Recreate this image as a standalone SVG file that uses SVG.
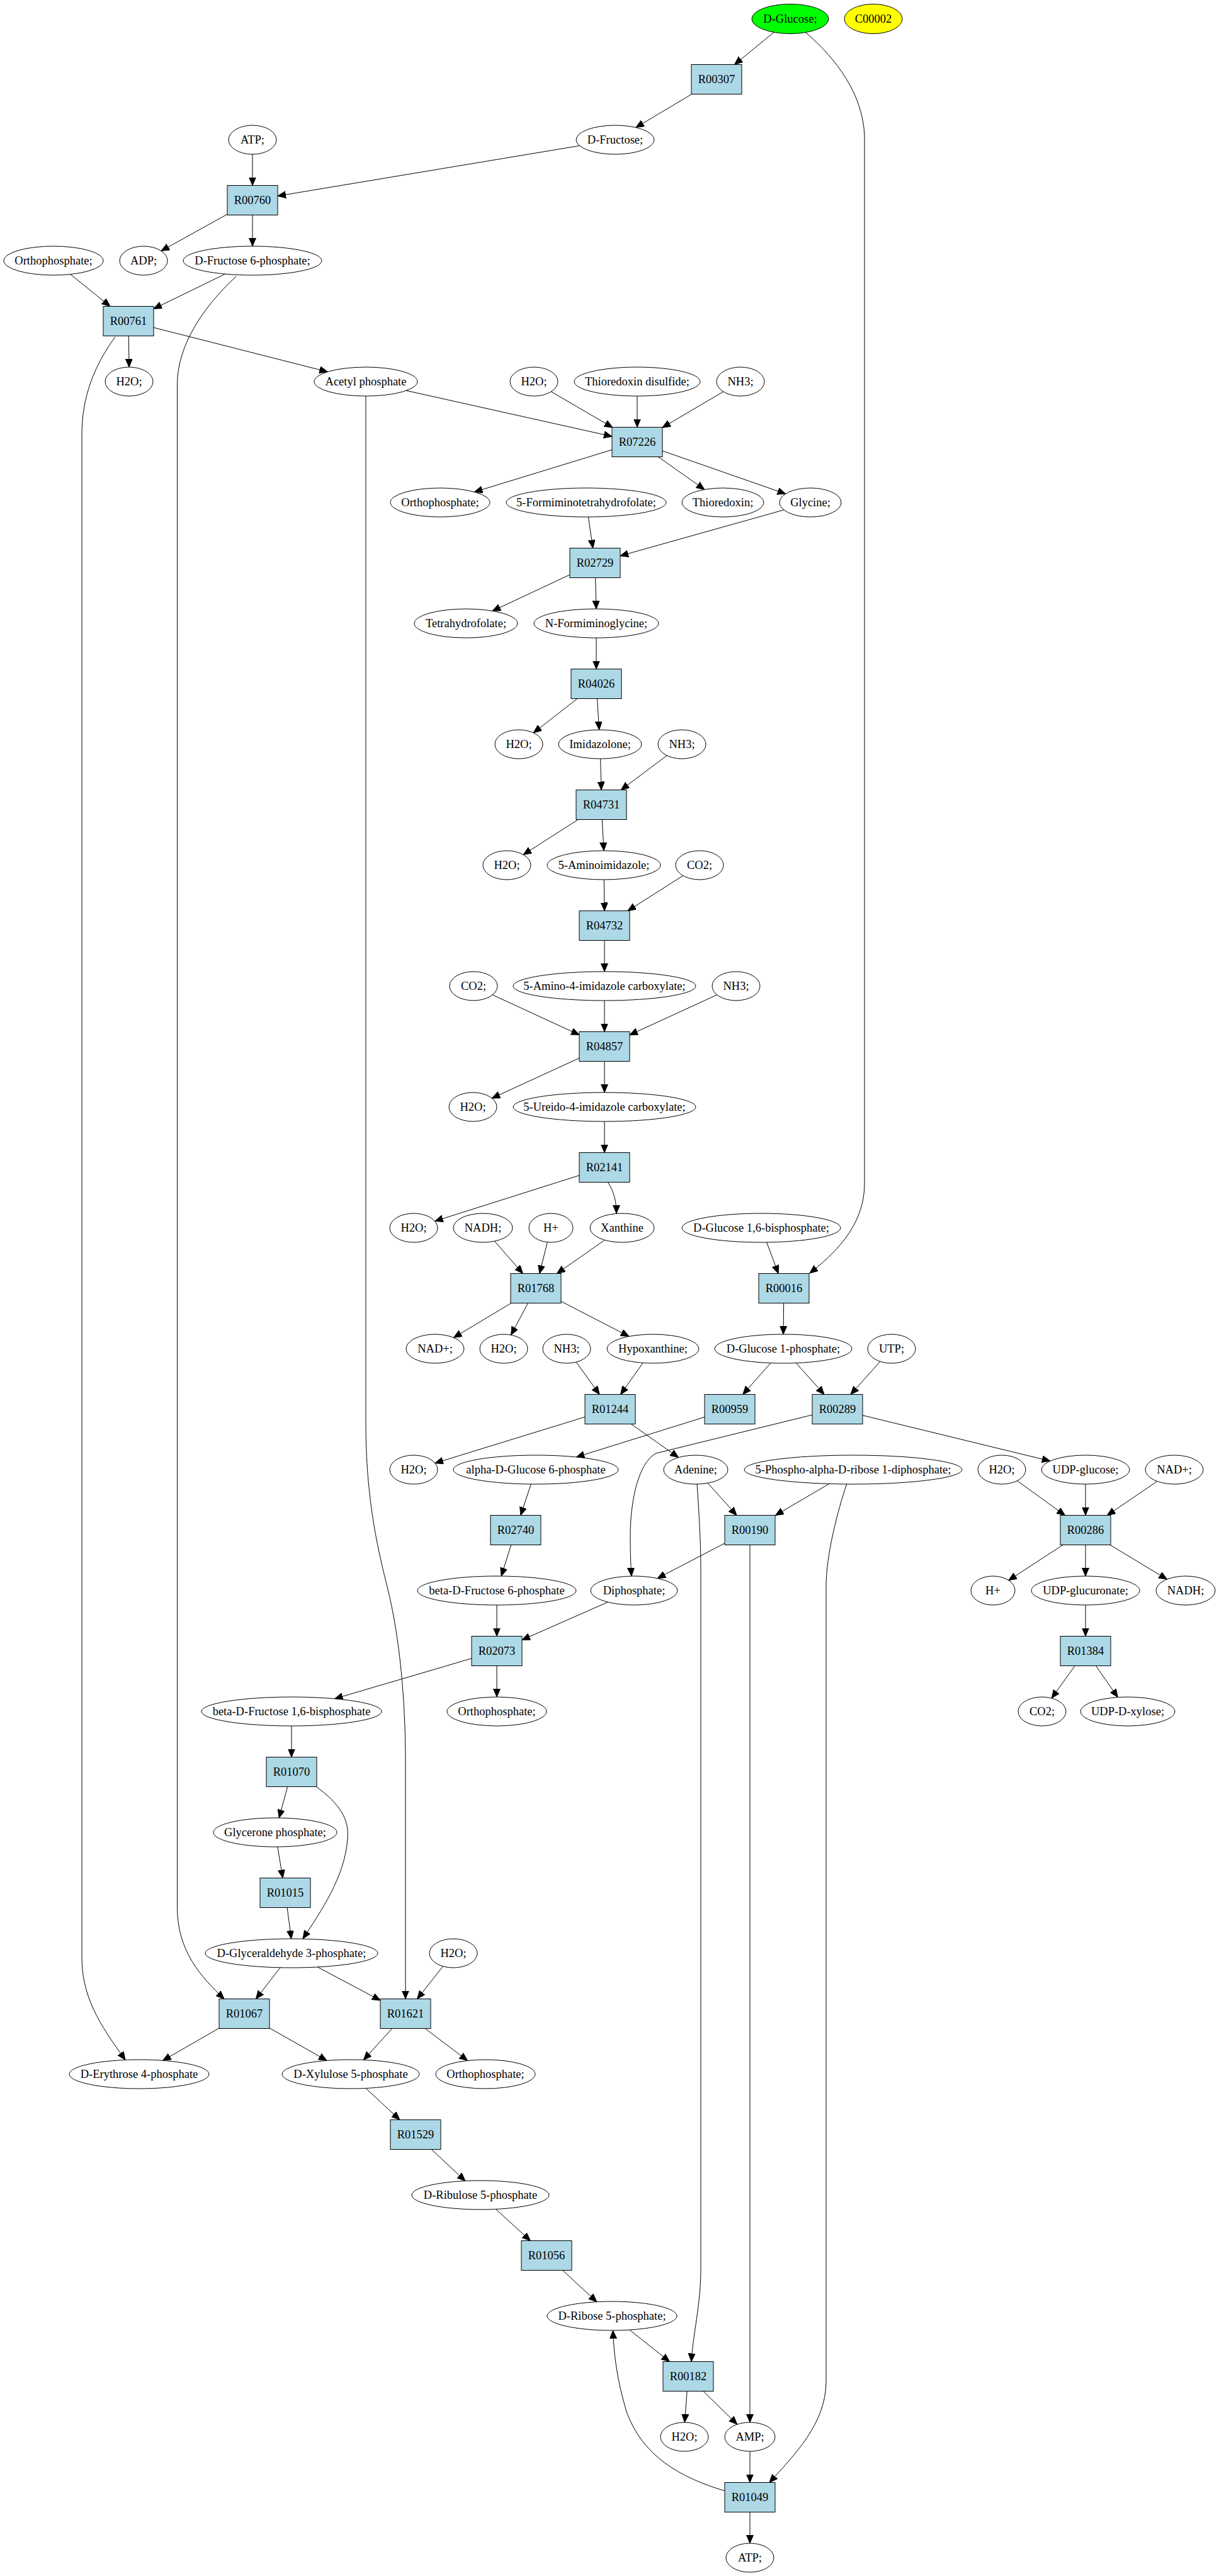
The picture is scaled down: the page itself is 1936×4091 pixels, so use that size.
<svg xmlns="http://www.w3.org/2000/svg" width="1936" height="4091" viewBox="0 0 1936 4091">
<style>
.n ellipse{fill:#fff;stroke:#000;stroke-width:1}
.r rect{fill:#add8e6;stroke:#000;stroke-width:1}
text{font-family:"Liberation Serif","Times New Roman",serif;font-size:18.5px;text-anchor:middle;fill:#000}
#edges path{fill:none;stroke:#000;stroke-width:1;marker-end:url(#arr)}
</style>
<defs>
<marker id="arr" markerWidth="14" markerHeight="12" refX="13" refY="5.5" orient="auto" markerUnits="userSpaceOnUse"><path d="M0,0 L13,5.5 L0,11 z" fill="#000" stroke="#000" stroke-width="1"/></marker>
</defs>
<rect width="1936" height="4091" fill="#fff"/>
<g id="edges">
<path d="M1255,30 L1166.6,102.5"/>
<path d="M1280,52 C1330,95 1370,150 1373,215 L1373,1880 C1373,1950 1320,1995 1286,2022"/>
<path d="M1138,126 L1009.8,202.5"/>
<path d="M977,222 L441,311.3"/>
<path d="M401,222 L401,294.5"/>
<path d="M401,318 L256,398.5"/>
<path d="M401,318 L401,391"/>
<path d="M85,414 L174.9,486.5"/>
<path d="M401,414 L244,490.5"/>
<path d="M375,439 C320,490 282,550 281.5,610 L281.5,3030 C282,3100 320,3140 356,3174.5"/>
<path d="M204,510 L205,583"/>
<path d="M204,510 L520.3,590.5"/>
<path d="M183,535 C150,580 130,630 130,690 L130,3110 C130,3180 170,3230 199,3271.5"/>
<path d="M581,606 L972,693.1"/>
<path d="M581,629 L581,2260 C581,2380 600,2460 615,2520 C635,2600 644,2700 644,2800 L644,3174.5"/>
<path d="M848,606 L973,679"/>
<path d="M1012,606 L1012,678.5"/>
<path d="M1176,606 L1052,679"/>
<path d="M1012,702 L753.4,781.3"/>
<path d="M1012,702 L1118.9,777.4"/>
<path d="M1012,702 L1247.7,784.3"/>
<path d="M931,798 L941.6,870.5"/>
<path d="M1287,798 L985,882.8"/>
<path d="M945,894 L782.1,970.3"/>
<path d="M945,894 L947,967"/>
<path d="M947,990 L947,1062.5"/>
<path d="M947,1086 L847.3,1163.8"/>
<path d="M947,1086 L951.6,1159"/>
<path d="M953,1182 L955,1254.5"/>
<path d="M1083,1182 L986.3,1254.5"/>
<path d="M955,1278 L831.1,1357.3"/>
<path d="M955,1278 L959,1351"/>
<path d="M959,1374 L960,1446.5"/>
<path d="M1111,1374 L997,1446.5"/>
<path d="M960,1470 L960,1543"/>
<path d="M752,1566 L920,1643.5"/>
<path d="M960,1566 L960,1638.5"/>
<path d="M1169,1566 L1000,1643.6"/>
<path d="M960,1662 L781.3,1744.1"/>
<path d="M960,1662 L960,1735"/>
<path d="M960,1758 L960,1830.5"/>
<path d="M960,1854 L690.7,1939.3"/>
<path d="M965,1877 C975,1892 979,1908 979,1927"/>
<path d="M767,1950 L830.4,2022.5"/>
<path d="M875,1950 L856.9,2022.5"/>
<path d="M988,1950 L884.5,2022.5"/>
<path d="M851,2046 L720.5,2124.3"/>
<path d="M851,2046 L811.6,2120.1"/>
<path d="M851,2046 L999,2122.4"/>
<path d="M1209,1950 L1236.2,2022.5"/>
<path d="M1245,2046 L1244,2119"/>
<path d="M900,2142 L952.1,2214.5"/>
<path d="M1037,2142 L985.6,2214.5"/>
<path d="M1244,2142 L1179.8,2214.5"/>
<path d="M1244,2142 L1309,2214.5"/>
<path d="M1416,2142 L1351,2214.5"/>
<path d="M969,2238 L690.9,2323.6"/>
<path d="M969,2238 L1077.5,2314.6"/>
<path d="M1159,2238 L915.3,2314"/>
<path d="M1290,2247 L1042,2308 C1015,2322 1001,2380 1001,2440 C1001,2470 1002,2490 1003,2503"/>
<path d="M1330,2238 L1667.8,2320.3"/>
<path d="M1105,2334 L1170,2406.5"/>
<path d="M1107,2356 C1110,2400 1113,2450 1113,2490 L1113,3606 C1113,3660 1100,3710 1098,3750.5"/>
<path d="M1355,2334 L1231.5,2406.5"/>
<path d="M1345,2356 C1330,2400 1312,2470 1312,2520 L1312,3782 C1312,3850 1260,3900 1222,3942.5"/>
<path d="M851,2334 L826.8,2406.5"/>
<path d="M1191,2430 L1044.1,2506.6"/>
<path d="M1191,2453 L1191,3847"/>
<path d="M1591,2334 L1691.4,2406.5"/>
<path d="M1724,2334 L1724,2406.5"/>
<path d="M1865,2334 L1758.5,2406.5"/>
<path d="M819,2430 L796.2,2503"/>
<path d="M789,2526 L789,2598.5"/>
<path d="M1007,2526 L829,2604.4"/>
<path d="M1724,2430 L1601.8,2509.8"/>
<path d="M1724,2430 L1724,2503"/>
<path d="M1724,2430 L1853.4,2508.1"/>
<path d="M1724,2526 L1724,2598.5"/>
<path d="M789,2622 L531.5,2697.8"/>
<path d="M789,2622 L789,2695"/>
<path d="M1724,2622 L1670.2,2696.9"/>
<path d="M1724,2622 L1775.3,2695.5"/>
<path d="M463,2718 L463,2790.5"/>
<path d="M463,2814 L443.2,2887.1"/>
<path d="M503,2838 C540,2865 555,2890 552,2920 C548,2980 510,3035 481,3079"/>
<path d="M437,2910 L449.1,2982.5"/>
<path d="M453,3006 L462.6,3079"/>
<path d="M463,3102 L406.4,3174.5"/>
<path d="M463,3102 L604,3176.8"/>
<path d="M720,3102 L662.6,3174.5"/>
<path d="M388,3198 L258.6,3272.4"/>
<path d="M388,3198 L519,3272.4"/>
<path d="M644,3198 L577.5,3271.4"/>
<path d="M644,3198 L742.6,3272.5"/>
<path d="M557,3294 L634.8,3366.5"/>
<path d="M660,3390 L738.9,3463.6"/>
<path d="M763,3486 L842.3,3558.5"/>
<path d="M868,3582 L947.8,3655.6"/>
<path d="M972,3678 L1063.4,3750.5"/>
<path d="M1093,3774 L1087.4,3847"/>
<path d="M1093,3774 L1170.8,3850.2"/>
<path d="M1191,3870 L1191,3942.5"/>
<path d="M1191,3966 L1191,4039"/>
<path d="M1152,3956 C1080,3935 1020,3900 995,3830 C980,3780 975,3740 973.5,3701"/>
</g>
<g id="c_D-Glucose" class="n"><ellipse cx="1255" cy="30" rx="61" ry="23.5" style="fill:#00ff00"/><text x="1255" y="36">D-Glucose;</text></g>
<g id="c_C00002" class="n"><ellipse cx="1387" cy="30" rx="46" ry="23.5" style="fill:#ffff00"/><text x="1387" y="36">C00002</text></g>
<g id="R00307" class="r"><rect x="1098" y="102.5" width="80" height="47"/><text x="1138" y="132">R00307</text></g>
<g id="c_ATP_1" class="n"><ellipse cx="401" cy="222" rx="38" ry="23"/><text x="401" y="228">ATP;</text></g>
<g id="c_D-Fructose" class="n"><ellipse cx="977" cy="222" rx="62" ry="23"/><text x="977" y="228">D-Fructose;</text></g>
<g id="R00760" class="r"><rect x="361" y="294.5" width="80" height="47"/><text x="401" y="324">R00760</text></g>
<g id="c_Orthophosphate_1" class="n"><ellipse cx="85" cy="414" rx="79" ry="23"/><text x="85" y="420">Orthophosphate;</text></g>
<g id="c_ADP" class="n"><ellipse cx="228" cy="414" rx="38" ry="23"/><text x="228" y="420">ADP;</text></g>
<g id="c_D-Fructose6P" class="n"><ellipse cx="401" cy="414" rx="110" ry="23"/><text x="401" y="420">D-Fructose 6-phosphate;</text></g>
<g id="R00761" class="r"><rect x="164" y="486.5" width="80" height="47"/><text x="204" y="516">R00761</text></g>
<g id="c_H2O_1" class="n"><ellipse cx="205" cy="606" rx="38" ry="23"/><text x="205" y="612">H2O;</text></g>
<g id="c_Acetylphosphate" class="n"><ellipse cx="581" cy="606" rx="82" ry="23"/><text x="581" y="612">Acetyl phosphate</text></g>
<g id="c_H2O_2" class="n"><ellipse cx="848" cy="606" rx="38" ry="23"/><text x="848" y="612">H2O;</text></g>
<g id="c_Thioredoxindisulfide" class="n"><ellipse cx="1012" cy="606" rx="100" ry="23"/><text x="1012" y="612">Thioredoxin disulfide;</text></g>
<g id="c_NH3_1" class="n"><ellipse cx="1176" cy="606" rx="38" ry="23"/><text x="1176" y="612">NH3;</text></g>
<g id="R07226" class="r"><rect x="972" y="678.5" width="80" height="47"/><text x="1012" y="708">R07226</text></g>
<g id="c_Orthophosphate_2" class="n"><ellipse cx="699" cy="798" rx="79" ry="23"/><text x="699" y="804">Orthophosphate;</text></g>
<g id="c_5-Formiminotetrahydrofolate" class="n"><ellipse cx="931" cy="798" rx="127" ry="23"/><text x="931" y="804">5-Formiminotetrahydrofolate;</text></g>
<g id="c_Thioredoxin" class="n"><ellipse cx="1148" cy="798" rx="65" ry="23"/><text x="1148" y="804">Thioredoxin;</text></g>
<g id="c_Glycine" class="n"><ellipse cx="1287" cy="798" rx="49" ry="23"/><text x="1287" y="804">Glycine;</text></g>
<g id="R02729" class="r"><rect x="905" y="870.5" width="80" height="47"/><text x="945" y="900">R02729</text></g>
<g id="c_Tetrahydrofolate" class="n"><ellipse cx="740" cy="990" rx="82" ry="23"/><text x="740" y="996">Tetrahydrofolate;</text></g>
<g id="c_N-Formiminoglycine" class="n"><ellipse cx="947" cy="990" rx="99" ry="23"/><text x="947" y="996">N-Formiminoglycine;</text></g>
<g id="R04026" class="r"><rect x="907" y="1062.5" width="80" height="47"/><text x="947" y="1092">R04026</text></g>
<g id="c_H2O_3" class="n"><ellipse cx="824" cy="1182" rx="38" ry="23"/><text x="824" y="1188">H2O;</text></g>
<g id="c_Imidazolone" class="n"><ellipse cx="953" cy="1182" rx="66" ry="23"/><text x="953" y="1188">Imidazolone;</text></g>
<g id="c_NH3_2" class="n"><ellipse cx="1083" cy="1182" rx="38" ry="23"/><text x="1083" y="1188">NH3;</text></g>
<g id="R04731" class="r"><rect x="915" y="1254.5" width="80" height="47"/><text x="955" y="1284">R04731</text></g>
<g id="c_H2O_4" class="n"><ellipse cx="805" cy="1374" rx="38" ry="23"/><text x="805" y="1380">H2O;</text></g>
<g id="c_5-Aminoimidazole" class="n"><ellipse cx="959" cy="1374" rx="90" ry="23"/><text x="959" y="1380">5-Aminoimidazole;</text></g>
<g id="c_CO2_1" class="n"><ellipse cx="1111" cy="1374" rx="38" ry="23"/><text x="1111" y="1380">CO2;</text></g>
<g id="R04732" class="r"><rect x="920" y="1446.5" width="80" height="47"/><text x="960" y="1476">R04732</text></g>
<g id="c_CO2_2" class="n"><ellipse cx="752" cy="1566" rx="38" ry="23"/><text x="752" y="1572">CO2;</text></g>
<g id="c_5-Amino-4-imidazolecarboxylate" class="n"><ellipse cx="960" cy="1566" rx="145" ry="23"/><text x="960" y="1572">5-Amino-4-imidazole carboxylate;</text></g>
<g id="c_NH3_3" class="n"><ellipse cx="1169" cy="1566" rx="38" ry="23"/><text x="1169" y="1572">NH3;</text></g>
<g id="R04857" class="r"><rect x="920" y="1638.5" width="80" height="47"/><text x="960" y="1668">R04857</text></g>
<g id="c_H2O_5" class="n"><ellipse cx="751" cy="1758" rx="38" ry="23"/><text x="751" y="1764">H2O;</text></g>
<g id="c_5-Ureido-4-imidazolecarboxylate" class="n"><ellipse cx="960" cy="1758" rx="145" ry="23"/><text x="960" y="1764">5-Ureido-4-imidazole carboxylate;</text></g>
<g id="R02141" class="r"><rect x="920" y="1830.5" width="80" height="47"/><text x="960" y="1860">R02141</text></g>
<g id="c_H2O_6" class="n"><ellipse cx="657" cy="1950" rx="38" ry="23"/><text x="657" y="1956">H2O;</text></g>
<g id="c_NADH_1" class="n"><ellipse cx="767" cy="1950" rx="47" ry="23"/><text x="767" y="1956">NADH;</text></g>
<g id="c_Hplus_1" class="n"><ellipse cx="875" cy="1950" rx="35" ry="23"/><text x="875" y="1956">H+</text></g>
<g id="c_Xanthine" class="n"><ellipse cx="988" cy="1950" rx="51" ry="23"/><text x="988" y="1956">Xanthine</text></g>
<g id="c_D-Glucose16bisphosphate" class="n"><ellipse cx="1209" cy="1950" rx="126" ry="23"/><text x="1209" y="1956">D-Glucose 1,6-bisphosphate;</text></g>
<g id="R01768" class="r"><rect x="811" y="2022.5" width="80" height="47"/><text x="851" y="2052">R01768</text></g>
<g id="R00016" class="r"><rect x="1205" y="2022.5" width="80" height="47"/><text x="1245" y="2052">R00016</text></g>
<g id="c_NADplus_1" class="n"><ellipse cx="691" cy="2142" rx="46" ry="23"/><text x="691" y="2148">NAD+;</text></g>
<g id="c_H2O_7" class="n"><ellipse cx="800" cy="2142" rx="38" ry="23"/><text x="800" y="2148">H2O;</text></g>
<g id="c_NH3_4" class="n"><ellipse cx="900" cy="2142" rx="38" ry="23"/><text x="900" y="2148">NH3;</text></g>
<g id="c_Hypoxanthine" class="n"><ellipse cx="1037" cy="2142" rx="73" ry="23"/><text x="1037" y="2148">Hypoxanthine;</text></g>
<g id="c_D-Glucose1phosphate" class="n"><ellipse cx="1244" cy="2142" rx="109" ry="23"/><text x="1244" y="2148">D-Glucose 1-phosphate;</text></g>
<g id="c_UTP" class="n"><ellipse cx="1416" cy="2142" rx="38" ry="23"/><text x="1416" y="2148">UTP;</text></g>
<g id="R01244" class="r"><rect x="929" y="2214.5" width="80" height="47"/><text x="969" y="2244">R01244</text></g>
<g id="R00959" class="r"><rect x="1119" y="2214.5" width="80" height="47"/><text x="1159" y="2244">R00959</text></g>
<g id="R00289" class="r"><rect x="1290" y="2214.5" width="80" height="47"/><text x="1330" y="2244">R00289</text></g>
<g id="c_H2O_8" class="n"><ellipse cx="657" cy="2334" rx="38" ry="23"/><text x="657" y="2340">H2O;</text></g>
<g id="c_alpha-D-Glucose6phosphate" class="n"><ellipse cx="851" cy="2334" rx="131" ry="23"/><text x="851" y="2340">alpha-D-Glucose 6-phosphate</text></g>
<g id="c_Adenine" class="n"><ellipse cx="1105" cy="2334" rx="51" ry="23"/><text x="1105" y="2340">Adenine;</text></g>
<g id="c_PRPP" class="n"><ellipse cx="1355" cy="2334" rx="173" ry="23"/><text x="1355" y="2340">5-Phospho-alpha-D-ribose 1-diphosphate;</text></g>
<g id="c_H2O_9" class="n"><ellipse cx="1591" cy="2334" rx="38" ry="23"/><text x="1591" y="2340">H2O;</text></g>
<g id="c_UDP-glucose" class="n"><ellipse cx="1724" cy="2334" rx="70" ry="23"/><text x="1724" y="2340">UDP-glucose;</text></g>
<g id="c_NADplus_2" class="n"><ellipse cx="1865" cy="2334" rx="46" ry="23"/><text x="1865" y="2340">NAD+;</text></g>
<g id="R02740" class="r"><rect x="779" y="2406.5" width="80" height="47"/><text x="819" y="2436">R02740</text></g>
<g id="R00190" class="r"><rect x="1151" y="2406.5" width="80" height="47"/><text x="1191" y="2436">R00190</text></g>
<g id="R00286" class="r"><rect x="1684" y="2406.5" width="80" height="47"/><text x="1724" y="2436">R00286</text></g>
<g id="c_beta-D-Fructose6phosphate" class="n"><ellipse cx="789" cy="2526" rx="126" ry="23"/><text x="789" y="2532">beta-D-Fructose 6-phosphate</text></g>
<g id="c_Diphosphate" class="n"><ellipse cx="1007" cy="2526" rx="69" ry="23"/><text x="1007" y="2532">Diphosphate;</text></g>
<g id="c_Hplus_2" class="n"><ellipse cx="1577" cy="2526" rx="35" ry="23"/><text x="1577" y="2532">H+</text></g>
<g id="c_UDP-glucuronate" class="n"><ellipse cx="1724" cy="2526" rx="86" ry="23"/><text x="1724" y="2532">UDP-glucuronate;</text></g>
<g id="c_NADH_2" class="n"><ellipse cx="1883" cy="2526" rx="47" ry="23"/><text x="1883" y="2532">NADH;</text></g>
<g id="R02073" class="r"><rect x="749" y="2598.5" width="80" height="47"/><text x="789" y="2628">R02073</text></g>
<g id="R01384" class="r"><rect x="1684" y="2598.5" width="80" height="47"/><text x="1724" y="2628">R01384</text></g>
<g id="c_beta-D-Fructose16bisphosphate" class="n"><ellipse cx="463" cy="2718" rx="143" ry="23"/><text x="463" y="2724">beta-D-Fructose 1,6-bisphosphate</text></g>
<g id="c_Orthophosphate_3" class="n"><ellipse cx="789" cy="2718" rx="79" ry="23"/><text x="789" y="2724">Orthophosphate;</text></g>
<g id="c_CO2_3" class="n"><ellipse cx="1655" cy="2718" rx="38" ry="23"/><text x="1655" y="2724">CO2;</text></g>
<g id="c_UDP-D-xylose" class="n"><ellipse cx="1791" cy="2718" rx="75" ry="23"/><text x="1791" y="2724">UDP-D-xylose;</text></g>
<g id="R01070" class="r"><rect x="423" y="2790.5" width="80" height="47"/><text x="463" y="2820">R01070</text></g>
<g id="c_Glyceronephosphate" class="n"><ellipse cx="437" cy="2910" rx="98" ry="23"/><text x="437" y="2916">Glycerone phosphate;</text></g>
<g id="R01015" class="r"><rect x="413" y="2982.5" width="80" height="47"/><text x="453" y="3012">R01015</text></g>
<g id="c_D-Glyceraldehyde3phosphate" class="n"><ellipse cx="463" cy="3102" rx="137" ry="23"/><text x="463" y="3108">D-Glyceraldehyde 3-phosphate;</text></g>
<g id="c_H2O_10" class="n"><ellipse cx="720" cy="3102" rx="38" ry="23"/><text x="720" y="3108">H2O;</text></g>
<g id="R01067" class="r"><rect x="348" y="3174.5" width="80" height="47"/><text x="388" y="3204">R01067</text></g>
<g id="R01621" class="r"><rect x="604" y="3174.5" width="80" height="47"/><text x="644" y="3204">R01621</text></g>
<g id="c_D-Erythrose4phosphate" class="n"><ellipse cx="221" cy="3294" rx="111" ry="23"/><text x="221" y="3300">D-Erythrose 4-phosphate</text></g>
<g id="c_D-Xylulose5phosphate" class="n"><ellipse cx="557" cy="3294" rx="109" ry="23"/><text x="557" y="3300">D-Xylulose 5-phosphate</text></g>
<g id="c_Orthophosphate_4" class="n"><ellipse cx="771" cy="3294" rx="79" ry="23"/><text x="771" y="3300">Orthophosphate;</text></g>
<g id="R01529" class="r"><rect x="620" y="3366.5" width="80" height="47"/><text x="660" y="3396">R01529</text></g>
<g id="c_D-Ribulose5phosphate" class="n"><ellipse cx="763" cy="3486" rx="109" ry="23"/><text x="763" y="3492">D-Ribulose 5-phosphate</text></g>
<g id="R01056" class="r"><rect x="828" y="3558.5" width="80" height="47"/><text x="868" y="3588">R01056</text></g>
<g id="c_D-Ribose5phosphate" class="n"><ellipse cx="972" cy="3678" rx="103" ry="23"/><text x="972" y="3684">D-Ribose 5-phosphate;</text></g>
<g id="R00182" class="r"><rect x="1053" y="3750.5" width="80" height="47"/><text x="1093" y="3780">R00182</text></g>
<g id="c_H2O_11" class="n"><ellipse cx="1087" cy="3870" rx="38" ry="23"/><text x="1087" y="3876">H2O;</text></g>
<g id="c_AMP" class="n"><ellipse cx="1191" cy="3870" rx="40" ry="23"/><text x="1191" y="3876">AMP;</text></g>
<g id="R01049" class="r"><rect x="1151" y="3942.5" width="80" height="47"/><text x="1191" y="3972">R01049</text></g>
<g id="c_ATP_2" class="n"><ellipse cx="1191" cy="4062" rx="38" ry="23"/><text x="1191" y="4068">ATP;</text></g>
</svg>
